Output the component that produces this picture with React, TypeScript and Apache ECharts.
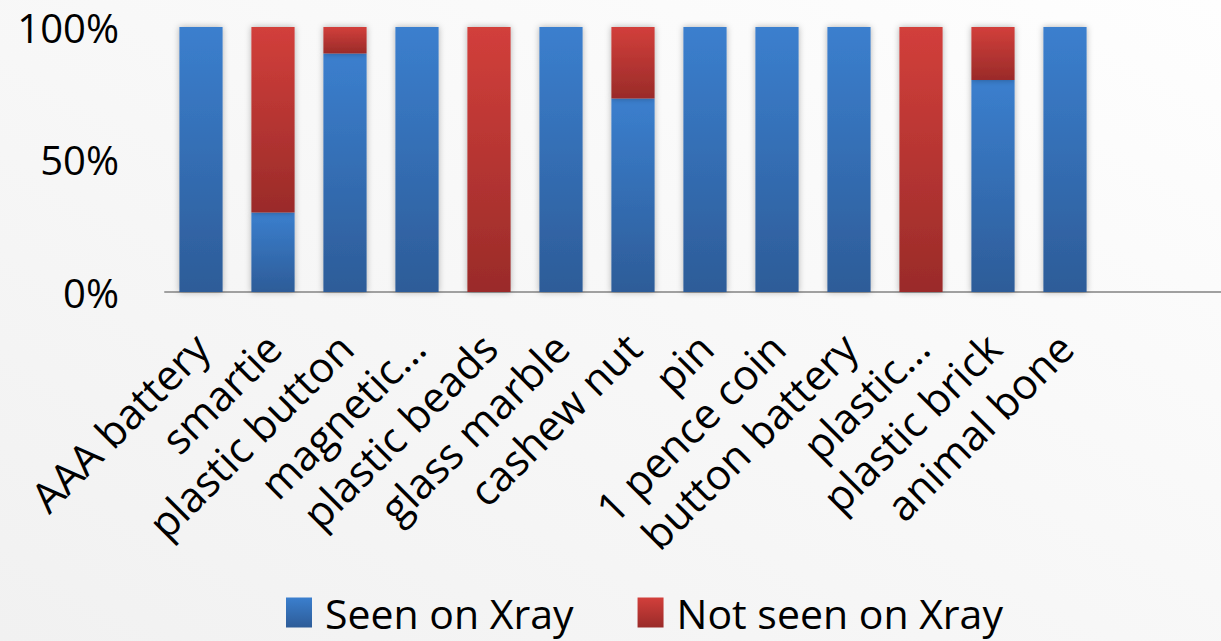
import React, { useEffect, useRef } from "react";
import * as echarts from "echarts";

const categories = [
  "AAA battery",
  "smartie",
  "plastic button",
  "magnetic…",
  "plastic beads",
  "glass marble",
  "cashew nut",
  "pin",
  "1 pence coin",
  "button battery",
  "plastic…",
  "plastic brick",
  "animal bone",
];
const seenOnXray = [100, 30, 90, 100, 0, 100, 73, 100, 100, 100, 0, 80, 100];
const notSeenOnXray = [0, 70, 10, 0, 100, 0, 27, 0, 0, 0, 100, 20, 0];
const yTicks = [0, 50, 100];

const FONT = "'Open Sans', 'Noto Sans', sans-serif";

export default function App() {
  const ref = useRef<HTMLDivElement>(null);
  useEffect(() => {
    if (!ref.current) return;
    const chart = echarts.init(ref.current, null, { renderer: "svg" });
    const blue = new echarts.graphic.LinearGradient(0, 0, 0, 1, [
      { offset: 0, color: "#3b7fce" },
      { offset: 1, color: "#2d5c98" },
    ]);
    const red = new echarts.graphic.LinearGradient(0, 0, 0, 1, [
      { offset: 0, color: "#d23f3b" },
      { offset: 1, color: "#9a2b29" },
    ]);
    chart.setOption({
      animation: false,
      backgroundColor: new echarts.graphic.LinearGradient(1, 0, 0, 1, [
        { offset: 0, color: "#fefefe" },
        { offset: 1, color: "#f1f1f1" },
      ]),
      grid: {
        left: 165,
        top: 27,
        width: 1080,
        height: 265,
        containLabel: false,
        outerBoundsMode: "none",
      },
      legend: {
        left: 281,
        top: 587,
        itemWidth: 26,
        itemHeight: 30,
        itemGap: 64,
        icon: "rect",
        textStyle: {
          fontFamily: FONT,
          fontSize: 41,
          lineHeight: 30,
          color: "#000",
          padding: [0, 0, 0, 8],
        },
        data: ["Seen on Xray", "Not seen on Xray"],
      },
      xAxis: {
        type: "category",
        data: categories,
        max: 14,
        axisLine: { show: true, lineStyle: { color: "#a0a0a0", width: 2 } },
        axisTick: { show: false },
        axisLabel: {
          rotate: 45,
          interval: 0,
          margin: 48,
          fontFamily: FONT,
          fontSize: 42,
          color: "#000",
          formatter: (_v: string, i: number) => categories[i] ?? "",
        },
      },
      yAxis: {
        type: "value",
        min: yTicks[0],
        max: yTicks[yTicks.length - 1],
        interval: 50,
        axisLine: { show: false },
        axisTick: { show: false },
        axisLabel: {
          margin: 46,
          fontFamily: FONT,
          fontSize: 40,
          color: "#000",
          formatter: "{value}%",
        },
        splitLine: {
          lineStyle: {
            color: "#a0a0a0",
            width: 2,
            shadowColor: "rgba(0,0,0,0.25)",
            shadowBlur: 3,
            shadowOffsetY: 1,
          },
        },
      },
      series: [
        {
          name: "Seen on Xray",
          type: "bar",
          stack: "total",
          barCategoryGap: "40%",
          data: seenOnXray,
          itemStyle: {
            color: blue,
            shadowColor: "rgba(0,0,0,0.3)",
            shadowBlur: 6,
          },
        },
        {
          name: "Not seen on Xray",
          type: "bar",
          stack: "total",
          barCategoryGap: "40%",
          data: notSeenOnXray,
          itemStyle: {
            color: red,
            shadowColor: "rgba(0,0,0,0.3)",
            shadowBlur: 6,
          },
        },
      ],
    });
    return () => chart.dispose();
  }, []);
  return (
    <div
      ref={ref}
      style={{ position: "absolute", left: 0, top: 0, width: 1221, height: 641 }}
    />
  );
}
